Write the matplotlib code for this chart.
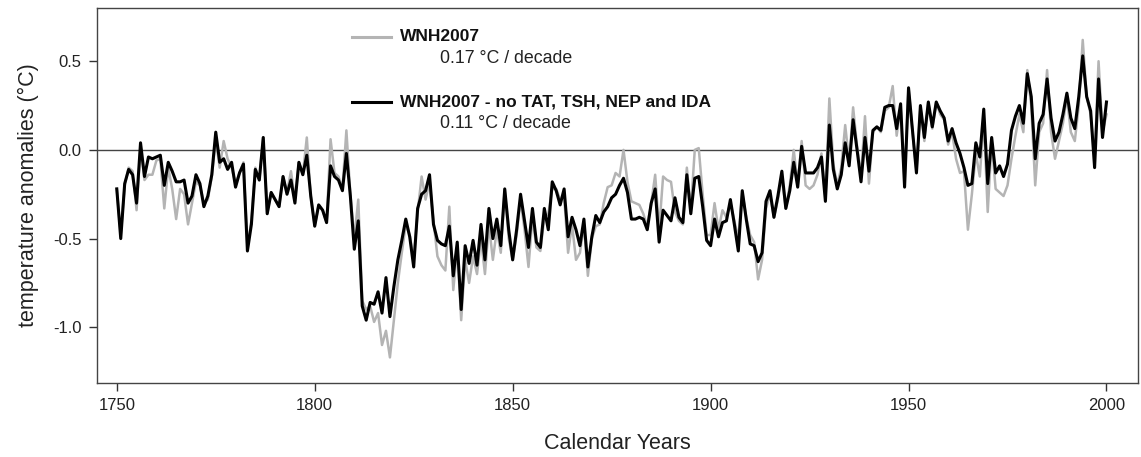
import matplotlib
matplotlib.use("Agg")
import matplotlib.pyplot as plt
from matplotlib.lines import Line2D
import numpy as np

plt.rcParams['font.family'] = ['Liberation Sans', 'DejaVu Sans']

# calendar years of the reconstruction
years = np.arange(1750, 2001)

# WNH2007 (grey line)
wnh2007 = [
    -0.22, -0.48, -0.20, -0.10, -0.12, -0.34, 0.02, -0.17, -0.14, -0.14,   # 1750
    -0.06, -0.05, -0.33, -0.10, -0.22, -0.39, -0.22, -0.25, -0.42, -0.30,  # 1760
    -0.18, -0.20, -0.30, -0.28, -0.15, 0.06, -0.10, 0.05, -0.05, -0.10,    # 1770
    -0.19, -0.13, -0.07, -0.55, -0.40, -0.10, -0.17, 0.07, -0.36, -0.24,   # 1780
    -0.28, -0.32, -0.15, -0.24, -0.12, -0.28, -0.07, -0.14, 0.07, -0.26,   # 1790
    -0.43, -0.31, -0.34, -0.41, 0.06, -0.13, -0.15, -0.22, 0.11, -0.25,    # 1800
    -0.50, -0.28, -0.85, -0.90, -0.88, -0.97, -0.92, -1.10, -1.02, -1.17,  # 1810
    -0.96, -0.75, -0.58, -0.42, -0.48, -0.62, -0.35, -0.15, -0.28, -0.18,  # 1820
    -0.40, -0.60, -0.65, -0.68, -0.32, -0.79, -0.55, -0.96, -0.62, -0.75,  # 1830
    -0.60, -0.70, -0.50, -0.70, -0.42, -0.62, -0.45, -0.58, -0.22, -0.50,  # 1840
    -0.62, -0.48, -0.28, -0.45, -0.66, -0.38, -0.55, -0.57, -0.38, -0.36,  # 1850
    -0.22, -0.22, -0.28, -0.26, -0.58, -0.42, -0.62, -0.58, -0.42, -0.71,  # 1860
    -0.50, -0.43, -0.42, -0.30, -0.21, -0.20, -0.13, -0.15, 0.00, -0.18,   # 1870
    -0.29, -0.30, -0.31, -0.36, -0.43, -0.30, -0.14, -0.45, -0.15, -0.17,  # 1880
    -0.18, -0.35, -0.40, -0.42, -0.10, -0.34, 0.00, 0.01, -0.25, -0.48,    # 1890
    -0.48, -0.30, -0.45, -0.34, -0.38, -0.30, -0.40, -0.50, -0.24, -0.38,  # 1900
    -0.48, -0.52, -0.73, -0.62, -0.33, -0.25, -0.38, -0.28, -0.15, -0.33,  # 1910
    -0.20, 0.00, -0.20, 0.05, -0.20, -0.22, -0.20, -0.14, -0.02, -0.27,    # 1920
    0.29, -0.08, -0.20, -0.10, 0.14, -0.07, 0.24, 0.02, -0.15, 0.19,       # 1930
    -0.19, 0.10, 0.13, 0.10, 0.22, 0.24, 0.36, 0.08, 0.24, -0.18,          # 1940
    0.35, 0.10, -0.12, 0.24, 0.05, 0.27, 0.12, 0.27, 0.20, 0.17,           # 1950
    0.03, 0.10, -0.05, -0.13, -0.12, -0.45, -0.25, -0.02, -0.15, 0.18,     # 1960
    -0.35, 0.05, -0.22, -0.24, -0.26, -0.20, -0.05, 0.08, 0.20, 0.10,      # 1970
    0.45, 0.25, -0.20, 0.10, 0.15, 0.45, 0.10, -0.05, 0.05, 0.15,          # 1980
    0.30, 0.10, 0.05, 0.25, 0.62, 0.30, 0.20, -0.05, 0.50, 0.10,           # 1990
    0.20,                                                                  # 2000
]

# WNH2007 without TAT, TSH, NEP and IDA (black line)
wnh2007_reduced = [
    -0.22, -0.50, -0.19, -0.11, -0.14, -0.30, 0.04, -0.15, -0.04, -0.05,   # 1750
    -0.04, -0.03, -0.20, -0.07, -0.12, -0.18, -0.18, -0.17, -0.30, -0.26,  # 1760
    -0.14, -0.19, -0.32, -0.26, -0.14, 0.10, -0.07, -0.05, -0.11, -0.07,   # 1770
    -0.21, -0.13, -0.08, -0.57, -0.42, -0.11, -0.17, 0.07, -0.36, -0.24,   # 1780
    -0.28, -0.32, -0.15, -0.25, -0.17, -0.30, -0.07, -0.14, -0.03, -0.26,  # 1790
    -0.43, -0.31, -0.34, -0.41, -0.09, -0.15, -0.17, -0.23, -0.02, -0.26,  # 1800
    -0.56, -0.40, -0.88, -0.96, -0.86, -0.87, -0.80, -0.92, -0.72, -0.94,  # 1810
    -0.77, -0.62, -0.51, -0.39, -0.49, -0.66, -0.33, -0.25, -0.23, -0.14,  # 1820
    -0.42, -0.51, -0.53, -0.54, -0.43, -0.71, -0.52, -0.90, -0.54, -0.64,  # 1830
    -0.51, -0.65, -0.42, -0.62, -0.33, -0.50, -0.39, -0.54, -0.22, -0.45,  # 1840
    -0.62, -0.45, -0.25, -0.40, -0.55, -0.33, -0.52, -0.55, -0.33, -0.45,  # 1850
    -0.18, -0.23, -0.31, -0.22, -0.49, -0.38, -0.45, -0.54, -0.39, -0.66,  # 1860
    -0.49, -0.37, -0.41, -0.35, -0.32, -0.27, -0.25, -0.20, -0.16, -0.24,  # 1870
    -0.39, -0.39, -0.38, -0.39, -0.45, -0.30, -0.22, -0.52, -0.34, -0.37,  # 1880
    -0.40, -0.27, -0.38, -0.41, -0.14, -0.36, -0.16, -0.15, -0.32, -0.51,  # 1890
    -0.54, -0.39, -0.49, -0.41, -0.40, -0.28, -0.42, -0.57, -0.23, -0.39,  # 1900
    -0.53, -0.54, -0.63, -0.58, -0.29, -0.23, -0.38, -0.26, -0.12, -0.33,  # 1910
    -0.23, -0.07, -0.21, 0.02, -0.13, -0.13, -0.13, -0.10, -0.04, -0.29,   # 1920
    0.14, -0.11, -0.22, -0.14, 0.04, -0.09, 0.17, 0.00, -0.18, 0.07,       # 1930
    -0.12, 0.11, 0.13, 0.11, 0.24, 0.25, 0.25, 0.12, 0.26, -0.21,          # 1940
    0.35, 0.11, -0.13, 0.25, 0.07, 0.27, 0.13, 0.27, 0.22, 0.18,           # 1950
    0.05, 0.12, 0.04, -0.02, -0.10, -0.20, -0.19, 0.04, -0.04, 0.23,       # 1960
    -0.19, 0.07, -0.13, -0.09, -0.15, -0.08, 0.11, 0.19, 0.25, 0.15,       # 1970
    0.43, 0.30, -0.05, 0.15, 0.20, 0.40, 0.18, 0.05, 0.10, 0.20,           # 1980
    0.32, 0.18, 0.12, 0.30, 0.53, 0.30, 0.22, -0.10, 0.40, 0.07,           # 1990
    0.27,                                                                  # 2000
]

trend_labels = ["0.17 \u00b0C / decade", "0.11 \u00b0C / decade"]
series_labels = ["WNH2007", "WNH2007 - no TAT, TSH, NEP and IDA"]

assert len(wnh2007) == len(years) and len(wnh2007_reduced) == len(years)

fig = plt.figure(figsize=(11.41, 4.57), dpi=100)
ax = fig.add_axes([0.085, 0.162, 0.9125, 0.8205])

ax.axhline(0, color='#444444', lw=1.0, zorder=1)
ax.plot(years, wnh2007, color='#b4b4b4', lw=1.8, zorder=2)
ax.plot(years, wnh2007_reduced, color='black', lw=2.2, zorder=3)

ax.set_xlim(1745, 2008)
ax.set_ylim(-1.314, 0.80)
ax.set_xticks([1750, 1800, 1850, 1900, 1950, 2000])
ax.set_yticks([0.5, 0.0, -0.5, -1.0])
ax.set_yticklabels(['0.5', '0.0', '-0.5', '-1.0'])
ax.tick_params(direction='out', length=5.5, width=1, colors='#333333',
               labelcolor='#222222', labelsize=12, pad=5.5)
for sp in ax.spines.values():
    sp.set_color('#444444')
    sp.set_linewidth(1.0)

ax.set_xlabel("Calendar Years", fontsize=15.5, color='#222222', labelpad=14)
ax.set_ylabel("temperature anomalies (\u00b0C)", fontsize=15.5, color='#222222', labelpad=10)

# legend with trend text under each entry
colors = ['#b4b4b4', 'black']
ys = [0.923, 0.749]
for c, y, name, trend in zip(colors, ys, series_labels, trend_labels):
    ax.add_line(Line2D([0.245, 0.282], [y, y], color=c, lw=2.2, transform=ax.transAxes))
    ax.text(0.291, y, name, transform=ax.transAxes, fontsize=12.5, fontweight='bold',
            va='center', ha='left', color='#111111')
    ax.text(0.329, y - 0.058, trend, transform=ax.transAxes, fontsize=12.8,
            va='center', ha='left', color='#222222')

fig.savefig("out.png", dpi=100)
